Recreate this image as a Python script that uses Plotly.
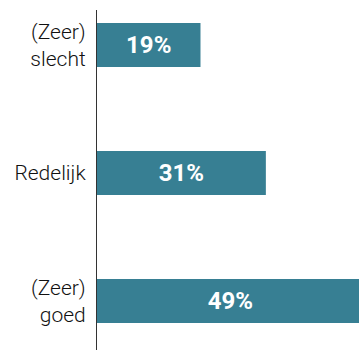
import plotly.graph_objects as go

categories = ["(Zeer)<br>slecht", "Redelijk", "(Zeer)<br>goed"]
values = [19, 31, 49]
value_labels = ["19%", "31%", "49%"]

bar_color = "#377f93"
text_color = "#111111"

fig = go.Figure(
    go.Bar(
        x=values,
        y=categories,
        orientation="h",
        marker=dict(color=bar_color, line=dict(width=0)),
        width=0.344,
        text=value_labels,
        textposition="inside",
        insidetextanchor="middle",
        textangle=0,
        insidetextfont=dict(family="Roboto", size=24, color="white", weight="bold"),
        hoverinfo="skip",
    )
)

fig.update_layout(
    width=359,
    height=350,
    margin=dict(l=97, r=0, t=10, b=0),
    paper_bgcolor="white",
    plot_bgcolor="white",
    showlegend=False,
    uniformtext=dict(minsize=24, mode="show"),
    xaxis=dict(
        range=[0, 48.1],
        visible=False,
        fixedrange=True,
    ),
    yaxis=dict(
        type="category",
        categoryorder="array",
        categoryarray=categories,
        range=[2.383, -0.273],
        showline=True,
        linecolor="#333333",
        linewidth=1.2,
        showgrid=False,
        zeroline=False,
        ticks="",
        ticklabelstandoff=6,
        tickfont=dict(family="Roboto", size=21, color=text_color, weight=300),
        fixedrange=True,
    ),
)

fig.write_html("out.html")
